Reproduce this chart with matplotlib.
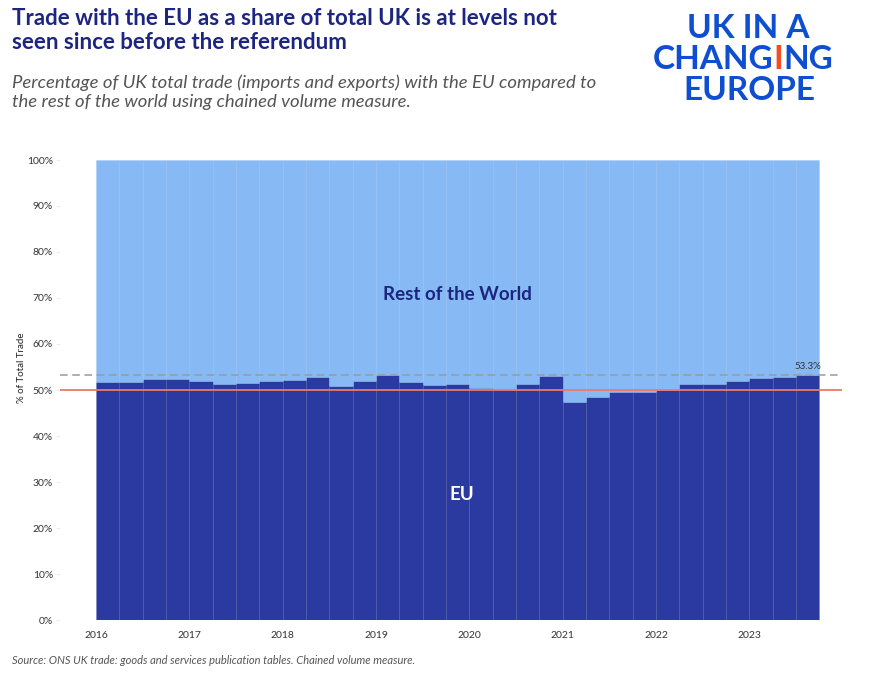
import matplotlib
matplotlib.use("Agg")
import matplotlib.pyplot as plt
import numpy as np

# quarterly share of UK total trade with the EU (%), 2016 Q1 - 2023 Q3
quarters = np.arange(2016, 2023.76, 0.25)[:31]
eu_share = [51.8, 51.8, 52.3, 52.3, 51.9, 51.2, 51.5, 52.0,
            52.2, 52.8, 50.9, 51.9, 53.2, 51.7, 51.0, 51.3,
            50.5, 50.2, 51.4, 53.0, 47.5, 48.5, 49.6, 49.6,
            50.0, 51.4, 51.2, 52.0, 52.7, 52.9, 53.3]
rest_share = [100 - v for v in eu_share]
years = list(range(2016, 2024))
yticks = list(range(0, 101, 10))

plt.rcParams['font.family'] = ['Lato', 'DejaVu Sans']

navy = '#1c2580'
eu_col = '#2b3aa1'
row_col = '#87baf4'

fig = plt.figure(figsize=(8.85, 6.86), dpi=100)
ax = fig.add_axes([60 / 885, 66 / 686, 782 / 885, 460 / 686])

ax.bar(quarters, eu_share, width=0.25, align='edge', color=eu_col,
       edgecolor=(0.1, 0.15, 0.45, 0.15), linewidth=0.6)
ax.bar(quarters, rest_share, width=0.25, align='edge', bottom=eu_share,
       color=row_col, edgecolor=(0.4, 0.6, 0.9, 0.15), linewidth=0.6)

ax.axhline(50, color='#ec7a6a', lw=1.3, zorder=3)
ax.axhline(eu_share[-1], color='#9a9a9a', lw=1.1, ls=(0, (5, 3)), zorder=3)
ax.text(quarters[-1] + 0.125, eu_share[-1] + 0.8, f"{eu_share[-1]:.1f}%",
        ha='center', va='bottom', fontsize=7, color='#333333')

ax.text(2019.87, 70.7, "Rest of the World", ha='center', va='center',
        fontsize=13.5, fontweight='bold', color=navy)
ax.text(2019.92, 27.2, "EU", ha='center', va='center',
        fontsize=13.5, fontweight='bold', color='white')

ax.set_xlim(2016 - 36 / 93.33, 2016 + 746 / 93.33)
ax.set_ylim(0, 100)
ax.set_xticks(years)
ax.set_xticklabels([str(y) for y in years], fontsize=7.5, color='#333333')
ax.set_yticks(yticks)
ax.set_yticklabels([f"{y}%" for y in yticks], fontsize=7.5, color='#333333')
ax.tick_params(length=3, color='#eeeeee', pad=2)
ax.tick_params(axis='x', length=0, pad=8)
for s in ax.spines.values():
    s.set_visible(False)
ax.axhline(0, color='#e6e6e6', lw=0.8, ls=':', zorder=0)
fig.text(21 / 885, 1 - 368 / 686, "% of Total Trade", rotation=90,
         ha='center', va='center', fontsize=7, color='#222222')

# titles
fig.text(12 / 885, 1 - 8 / 686,
         "Trade with the EU as a share of total UK is at levels not\nseen since before the referendum",
         ha='left', va='top', fontsize=16, fontweight='bold', color=navy, linespacing=1.2)
fig.text(12 / 885, 1 - 74 / 686,
         "Percentage of UK total trade (imports and exports) with the EU compared to\nthe rest of the world using chained volume measure.",
         ha='left', va='top', fontsize=13.3, style='italic', color='#555555', linespacing=1.3)
fig.text(12 / 885, 1 - 660 / 686,
         "Source: ONS UK trade: goods and services publication tables. Chained volume measure.",
         ha='left', va='center', fontsize=8, style='italic', color='#555555')

# logo
blue = '#0d4fd0'
red = '#f04e23'
fig.text(748 / 885, 1 - 38 / 686, "UK IN A", ha='center', va='baseline',
         fontsize=24, fontweight='bold', color=blue)
t1 = fig.text(653 / 885, 1 - 69 / 686, "CHANG", ha='left', va='baseline',
              fontsize=24, fontweight='bold', color=blue)
a2 = plt.annotate("I", xy=(1, 0), xycoords=t1, va='bottom', ha='left',
                  fontsize=24, fontweight='bold', color=red)
a3 = plt.annotate("NG", xy=(1, 0), xycoords=a2, va='bottom', ha='left',
                  fontsize=24, fontweight='bold', color=blue)
fig.text(749 / 885, 1 - 100 / 686, "EUROPE", ha='center', va='baseline',
         fontsize=24, fontweight='bold', color=blue)

fig.savefig("out.png", dpi=100)
